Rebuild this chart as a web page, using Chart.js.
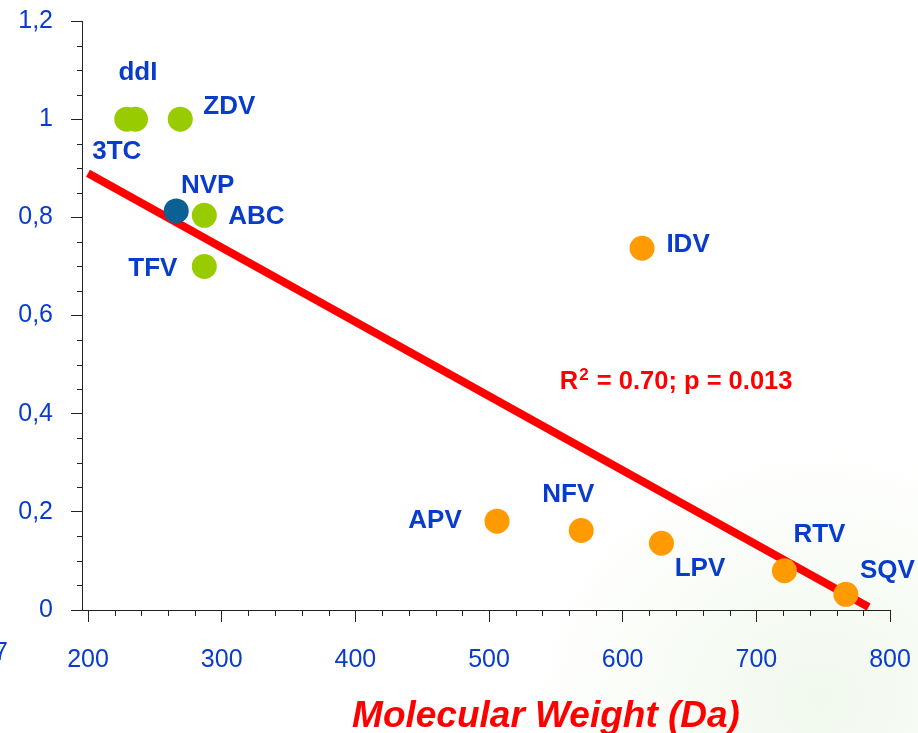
<!DOCTYPE html>
<html>
<head>
<meta charset="utf-8">
<script src="https://cdn.jsdelivr.net/npm/chart.js@4.4.0/dist/chart.umd.min.js"></script>
<style>
  html, body { margin: 0; padding: 0; background: #fff; }
  #wrap {
    position: relative; width: 918px; height: 733px;
    background: radial-gradient(ellipse 300px 260px at 820px 700px, rgba(205,230,190,0.28), rgba(255,255,255,0) 100%);
  }
</style>
</head>
<body>
<div id="wrap"><canvas id="chart"></canvas></div>
<script>
// Datos
const drugNames = ['3TC', 'ddI', 'ZDV', 'NVP', 'ABC', 'TFV', 'IDV', 'APV', 'NFV', 'LPV', 'RTV', 'SQV'];
const molWeight = [229, 235.5, 269, 266, 287, 287, 614.5, 506, 569, 629, 721, 767];
const ratio     = [1.0, 1.0, 1.0, 0.813, 0.804, 0.700, 0.737, 0.181, 0.162, 0.136, 0.080, 0.032];
const drugClass = ['NRTI', 'NRTI', 'NRTI', 'NNRTI', 'NRTI', 'NRTI', 'PI', 'PI', 'PI', 'PI', 'PI', 'PI'];

// Recta de regresion
const fitX = [200, 784];
const fitY = [0.89, 0.006];

const xTicks = [200, 300, 400, 500, 600, 700, 800];
const yTicks = [0, 0.2, 0.4, 0.6, 0.8, 1.0, 1.2];
const statParts = ['R', '2', ' = 0.70; p = 0.013'];
const axisTitle = 'Molecular Weight (Da)';

/* Colores y posiciones de etiquetas (px respecto al punto) */
const classColor = { NRTI: '#99cc00', NNRTI: '#0b6193', PI: '#ff9a00' };
const labelOffset = {
    '3TC': [-10, 31], 'ddI': [2.5, -48.5], 'ZDV': [49, -14], 'NVP': [31.5, -27],
    'ABC': [52, 0], 'TFV': [-51.5, 1], 'IDV': [46, -5], 'APV': [-62, -2.5],
    'NFV': [-13, -37.5], 'LPV': [38.5, 24], 'RTV': [35, -38], 'SQV': [41.5, -25.5]
};
const BLUE = '#0a3ccc';
const AXIS = '#222';
const FONT = '"Liberation Sans", Arial, sans-serif';

function pointsFor(cls) {
    const pts = [];
    for (let i = 0; i < drugNames.length; i++) {
        if (drugClass[i] === cls) pts.push({ x: molWeight[i], y: ratio[i], name: drugNames[i] });
    }
    return pts;
}

const pointSets = ['NRTI', 'NNRTI', 'PI'].map(cls => ({
    label: cls,
    data: pointsFor(cls),
    showLine: false,
    pointRadius: 12.5,
    pointHoverRadius: 12.5,
    pointBorderWidth: 0,
    backgroundColor: classColor[cls],
    borderColor: classColor[cls],
    order: 1
}));

const fitSet = {
    label: 'fit',
    data: fitX.map((x, i) => ({ x: x, y: fitY[i] })),
    showLine: true,
    borderColor: '#ff0000',
    borderWidth: 8,
    pointRadius: 0,
    borderCapStyle: 'butt',
    order: 10
};

/* Plugin: etiquetas, ticks menores, textos */
const extrasPlugin = {
    id: 'extras',
    afterDraw(chart) {
        const ctx = chart.ctx;
        const xs = chart.scales.x, ys = chart.scales.y;
        const area = chart.chartArea;
        ctx.save();

        // ticks menores
        ctx.strokeStyle = AXIS;
        ctx.lineWidth = 1;
        ctx.beginPath();
        for (let v = 200; v <= 800; v += 20) {
            if (v % 100 === 0) continue;
            const px = Math.round(xs.getPixelForValue(v)) + 0.5;
            ctx.moveTo(px, area.bottom);
            ctx.lineTo(px, area.bottom + 6);
        }
        for (let k = 0; k <= 24; k++) {
            if (k % 4 === 0) continue;
            const py = Math.round(ys.getPixelForValue(k * 0.05)) + 0.5;
            ctx.moveTo(area.left - 5, py);
            ctx.lineTo(area.left, py);
        }
        ctx.stroke();

        // nombres de farmacos
        ctx.fillStyle = BLUE;
        ctx.font = 'bold 26px ' + FONT;
        ctx.textAlign = 'center';
        ctx.textBaseline = 'alphabetic';
        chart.data.datasets.forEach((ds, di) => {
            if (ds.label === 'fit') return;
            const meta = chart.getDatasetMeta(di);
            meta.data.forEach((el, i) => {
                const name = ds.data[i].name;
                const off = labelOffset[name];
                ctx.fillText(name, el.x + off[0], el.y + off[1] + 9);
            });
        });

        // R2 con superindice
        ctx.fillStyle = '#ff0000';
        ctx.textAlign = 'left';
        const big = 'bold 25.5px ' + FONT, small = 'bold 17px ' + FONT;
        ctx.font = big;  const w0 = ctx.measureText(statParts[0]).width;
        ctx.font = small; const w1 = ctx.measureText(statParts[1]).width + 2;
        ctx.font = big;  const w2 = ctx.measureText(statParts[2]).width;
        let sx = xs.getPixelForValue(640) - (w0 + w1 + w2) / 2;
        const sy = ys.getPixelForValue(0.468) + 9;
        ctx.fillText(statParts[0], sx, sy);
        ctx.font = small; ctx.fillText(statParts[1], sx + w0 + 1, sy - 9);
        ctx.font = big;  ctx.fillText(statParts[2], sx + w0 + w1, sy);

        // titulo eje x
        ctx.textAlign = 'center';
        ctx.font = 'italic bold 37px ' + FONT;
        ctx.fillText(axisTitle, 546, chart.height - 6);

        // resto de la diapositiva vecina
        ctx.fillStyle = BLUE;
        ctx.font = '25px ' + FONT;
        ctx.textAlign = 'left';
        ctx.fillText('7', -6, 660);
        ctx.restore();
    }
};

const dataChart = new Chart(
    document.getElementById('chart'),
    {
    type: 'scatter',
    data: { datasets: [fitSet].concat(pointSets) },
    plugins: [extrasPlugin],
    options: {
        responsive: true,
        maintainAspectRatio: false,
        animation: false,
        layout: { padding: { top: 21, right: 28, left: 0, bottom: 0 } },
        plugins: {
            legend: { display: false },
            tooltip: { enabled: false }
        },
        scales: {
            x: {
                type: 'linear',
                min: 195.5,
                max: 800,
                afterBuildTicks: (scale) => { scale.ticks = xTicks.map(v => ({ value: v })); },
                afterFit: (scale) => {
                    scale.height = 123;
                    scale.paddingLeft = 0;
                    scale.paddingRight = 0;
                },
                grid: { drawOnChartArea: false, drawTicks: true, tickLength: 12, tickColor: AXIS, tickWidth: 1 },
                border: { display: true, color: AXIS, width: 1 },
                ticks: {
                    color: BLUE,
                    padding: 23,
                    maxRotation: 0,
                    font: { family: FONT, size: 25 },
                    callback: (v) => String(v)
                }
            },
            y: {
                type: 'linear',
                min: 0,
                max: 1.2,
                afterBuildTicks: (scale) => { scale.ticks = yTicks.map(v => ({ value: v })); },
                afterFit: (scale) => {
                    scale.width = 82;
                    scale.paddingTop = 0;
                    scale.paddingBottom = 0;
                },
                grid: { drawOnChartArea: false, drawTicks: true, tickLength: 11, tickColor: AXIS, tickWidth: 1 },
                border: { display: true, color: AXIS, width: 1 },
                ticks: {
                    color: BLUE,
                    padding: 18,
                    font: { family: FONT, size: 25 },
                    callback: (v) => String(Math.round(v * 10) / 10).replace('.', ',')
                }
            }
        }
    }
    }
);
</script>
</body>
</html>
